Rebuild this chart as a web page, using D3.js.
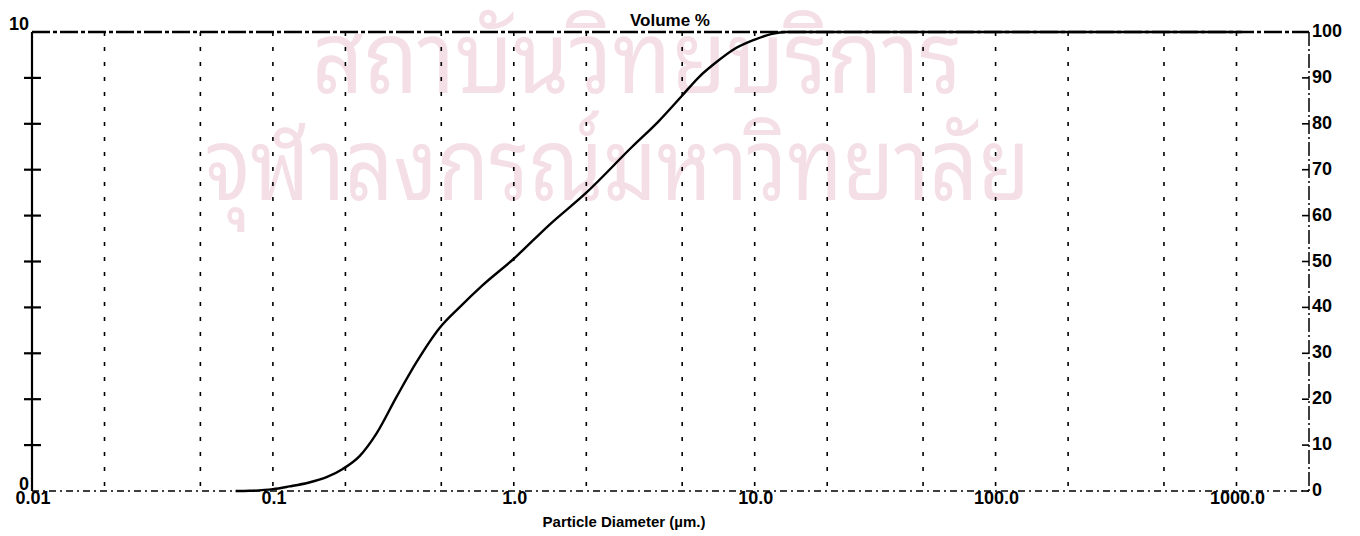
<!DOCTYPE html>
<html>
<head>
<meta charset="utf-8">
<script src="https://cdn.jsdelivr.net/npm/d3@7"></script>
<style>
  html, body { margin: 0; padding: 0; background: #fff; }
  svg { display: block; }
  .lbl { font-family: "Liberation Sans", Arial, sans-serif; font-weight: bold; fill: #000; }
  .wm { font-family: "Noto Sans Thai Looped", "Loma", "Garuda", "Norasi", "Noto Sans Thai", "Noto Sans", sans-serif; fill: #f5dfe7; }
</style>
</head>
<body>
<svg id="chart" width="1360" height="536"></svg>
<script>
// Cumulative particle size distribution (volume %)
const diameters = [0.07, 0.08, 0.1, 0.117, 0.14, 0.167, 0.195, 0.229, 0.269, 0.326, 0.394, 0.492, 0.595, 0.741, 1.0, 1.405, 2.0, 3.1, 4.0, 4.95, 5.9, 6.92, 8.3, 9.95, 11.8, 13.5, 20, 100, 1050];
const volumePct = [0, 0.05, 0.4, 1.0, 1.8, 3.0, 4.8, 7.6, 12.5, 20.5, 28.0, 35.5, 40.0, 44.8, 50.6, 58.0, 65.0, 75.0, 80.6, 85.9, 90.3, 93.4, 96.4, 98.3, 99.6, 100, 100, 100, 100];

// Axis ticks and labels
const gridDiameters = [0.02, 0.05, 0.1, 0.2, 0.5, 1, 2, 5, 10, 20, 50, 100, 200, 500, 1000];
const xLabelValues = [0.01, 0.1, 1, 10, 100, 1000];
const xLabelText = ["0.01", "0.1", "1.0", "10.0", "100.0", "1000.0"];
const rightTicks = [0, 10, 20, 30, 40, 50, 60, 70, 80, 90, 100];
const leftTicks = [0, 1, 2, 3, 4, 5, 6, 7, 8, 9, 10];
const leftLabels = [0, 10];

const watermark = ["สถาบันวิทยบริการ", "จุฬาลงกรณ์มหาวิทยาลัย"];

const svg = d3.select("#chart");

const x = d3.scaleLog().domain([0.01, 2000]).range([32, 1309]);
const yR = d3.scaleLinear().domain([0, 100]).range([491, 32]);
const yL = d3.scaleLinear().domain([0, 10]).range([491, 32]);

// faint watermark behind the plot
svg.append("text").attr("class", "wm")
  .attr("x", 312).attr("y", 93)
  .attr("font-size", 100)
  .attr("textLength", 650).attr("lengthAdjust", "spacingAndGlyphs")
  .text(watermark[0]);
svg.append("text").attr("class", "wm")
  .attr("x", 205).attr("y", 200)
  .attr("font-size", 100)
  .attr("textLength", 825).attr("lengthAdjust", "spacingAndGlyphs")
  .text(watermark[1]);

// vertical dashed grid
svg.append("g").selectAll("line").data(gridDiameters).join("line")
  .attr("x1", d => x(d)).attr("x2", d => x(d))
  .attr("y1", yR(100)).attr("y2", yR(0))
  .attr("stroke", "#000").attr("stroke-width", 1.6)
  .attr("stroke-dasharray", "4,11");

// frame: top edge (heavy dash-dot) and bottom axis (light dash-dot)
svg.append("line")
  .attr("x1", x(0.01)).attr("x2", x(2000))
  .attr("y1", yR(100)).attr("y2", yR(100))
  .attr("stroke", "#000").attr("stroke-width", 2.6)
  .attr("stroke-dasharray", "18,3,4,3");
svg.append("line")
  .attr("x1", x(0.01)).attr("x2", x(2000))
  .attr("y1", yR(0)).attr("y2", yR(0))
  .attr("stroke", "#000").attr("stroke-width", 1.6)
  .attr("stroke-dasharray", "7,4,2,4");

// left axis with crossing ticks
svg.append("line")
  .attr("x1", x(0.01)).attr("x2", x(0.01))
  .attr("y1", yL(10)).attr("y2", yL(0))
  .attr("stroke", "#000").attr("stroke-width", 2.2);
svg.append("g").selectAll("line").data(leftTicks.slice(1, -1)).join("line")
  .attr("x1", x(0.01) - 8).attr("x2", x(0.01) + 9)
  .attr("y1", d => yL(d)).attr("y2", d => yL(d))
  .attr("stroke", "#000").attr("stroke-width", 2.2);
svg.append("g").selectAll("text").data(leftLabels).join("text")
  .attr("class", "lbl")
  .attr("x", 29)
  .attr("y", d => d === 10 ? yL(d) - 2 : yL(d) - 1)
  .attr("text-anchor", "end")
  .attr("font-size", 18)
  .text(d => d);

// right axis with inward ticks
svg.append("line")
  .attr("x1", x(2000)).attr("x2", x(2000))
  .attr("y1", yR(100)).attr("y2", yR(0))
  .attr("stroke", "#000").attr("stroke-width", 1.5)
  .attr("stroke-dasharray", "14,3,2,3");
svg.append("g").selectAll("line").data(rightTicks).join("line")
  .attr("x1", x(2000) - 7).attr("x2", x(2000))
  .attr("y1", d => yR(d)).attr("y2", d => yR(d))
  .attr("stroke", "#000").attr("stroke-width", 1.6);
svg.append("g").selectAll("text").data(rightTicks).join("text")
  .attr("class", "lbl")
  .attr("x", x(2000) + 3)
  .attr("y", d => yR(d) + 5)
  .attr("font-size", 18)
  .text(d => d);

// x tick labels
svg.append("g").selectAll("text").data(xLabelValues).join("text")
  .attr("class", "lbl")
  .attr("x", d => x(d) + 1)
  .attr("y", yR(0) + 13)
  .attr("text-anchor", "middle")
  .attr("font-size", 18)
  .text((d, i) => xLabelText[i]);

// cumulative curve
const line = d3.line()
  .x((d, i) => x(diameters[i]))
  .y(d => yR(d))
  .curve(d3.curveMonotoneX);
svg.append("path")
  .attr("d", line(volumePct))
  .attr("fill", "none")
  .attr("stroke", "#000")
  .attr("stroke-width", 2.4);

// titles
svg.append("text").attr("class", "lbl")
  .attr("x", 670).attr("y", 26)
  .attr("text-anchor", "middle")
  .attr("font-size", 17)
  .text("Volume %");
svg.append("text").attr("class", "lbl")
  .attr("x", 624).attr("y", 527)
  .attr("text-anchor", "middle")
  .attr("font-size", 15)
  .text("Particle Diameter (µm.)");
</script>
</body>
</html>
